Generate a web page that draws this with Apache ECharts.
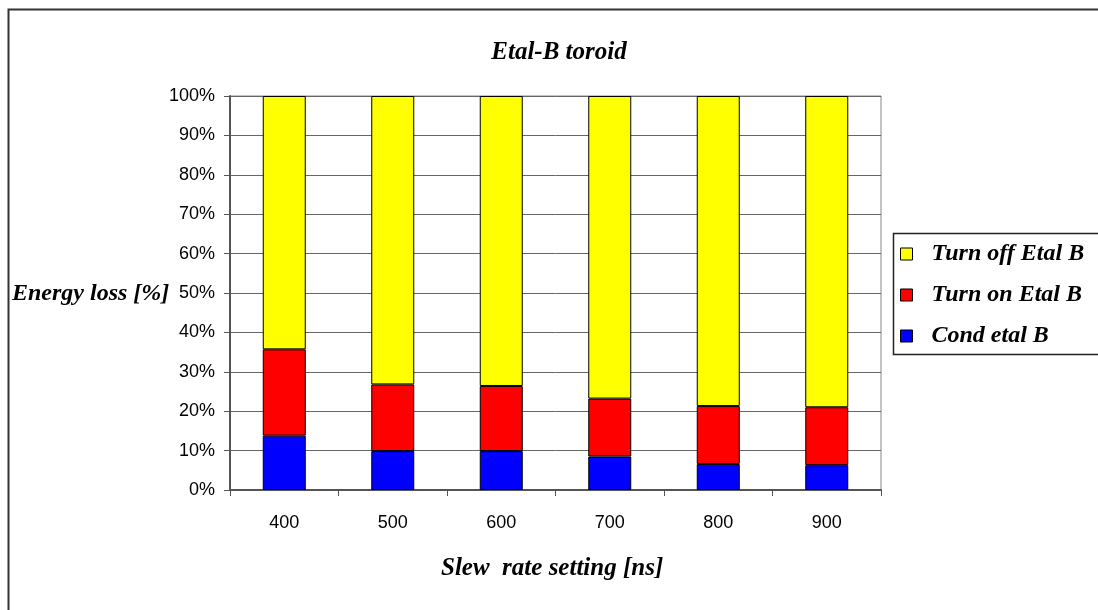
<!DOCTYPE html>
<html>
<head>
<meta charset="utf-8">
<script src="https://cdn.jsdelivr.net/npm/echarts@6/dist/echarts.min.js"></script>
<style>html,body{margin:0;padding:0;background:#fff}#c{width:1098px;height:610px}</style>
</head>
<body>
<div id="c"></div>
<script>
const categories = ['400', '500', '600', '700', '800', '900'];
const condEtalB = [13.8, 9.9, 9.9, 8.5, 6.6, 6.3];
const turnOnEtalB = [21.9, 16.9, 16.5, 14.7, 14.7, 14.7];
const turnOffEtalB = [64.3, 73.2, 73.6, 76.8, 78.7, 79.0];
const yTicks = [0, 10, 20, 30, 40, 50, 60, 70, 80, 90, 100];

const serif = '"Liberation Serif", "Times New Roman", serif';
const sans = '"Liberation Sans", Arial, sans-serif';

const chart = echarts.init(document.getElementById('c'), null, {renderer: 'canvas'});
const barStyle = (color) => ({color: color, borderColor: '#000', borderWidth: 1});
chart.setOption({
  animation: false,
  title: {
    text: 'Etal-B toroid', left: 554, top: 35, textAlign: 'center',
    textStyle: {fontFamily: serif, fontStyle: 'italic', fontWeight: 'bold', fontSize: 25, color: '#000'}
  },
  legend: {
    orient: 'vertical', left: 900, top: 242, padding: 0,
    data: ['Turn off Etal B', 'Turn on Etal B', 'Cond etal B'],
    itemWidth: 12, itemHeight: 12, itemGap: 17,
    icon: 'rect',
    itemStyle: {borderColor: '#000', borderWidth: 1},
    textStyle: {fontFamily: serif, fontStyle: 'italic', fontWeight: 'bold', fontSize: 24, color: '#000', padding: [0, 0, 0, 14]},
    selectedMode: false
  },
  grid: {left: 230, right: 217, top: 96, bottom: 120, show: true, borderColor: '#888', borderWidth: 1},
  xAxis: {
    type: 'category', data: categories,
    axisLine: {lineStyle: {color: '#555', width: 2}},
    axisTick: {show: true, alignWithLabel: false, length: 6, lineStyle: {color: '#555'}},
    axisLabel: {fontFamily: sans, fontSize: 18, color: '#000', margin: 24}
  },
  yAxis: {
    type: 'value', min: 0, max: 100, interval: 10,
    axisLine: {show: true, lineStyle: {color: '#555', width: 2}},
    axisTick: {show: true, length: 6, lineStyle: {color: '#555'}},
    axisLabel: {fontFamily: sans, fontSize: 18, color: '#000', margin: 15,
      formatter: v => yTicks.includes(v) ? v + '%' : ''},
    splitLine: {lineStyle: {color: '#666', width: 1}}
  },
  series: [
    {name: 'Cond etal B', type: 'bar', stack: 's', data: condEtalB, barWidth: 43, itemStyle: barStyle('#0000ff')},
    {name: 'Turn on Etal B', type: 'bar', stack: 's', data: turnOnEtalB, barWidth: 43, itemStyle: barStyle('#ff0000')},
    {name: 'Turn off Etal B', type: 'bar', stack: 's', data: turnOffEtalB, barWidth: 43, itemStyle: barStyle('#ffff00')}
  ],
  graphic: [
    {type: 'rect', shape: {x: 8.5, y: 9.5, width: 1100, height: 610}, style: {fill: 'none', stroke: '#333', lineWidth: 2}, silent: true},
    {type: 'rect', shape: {x: 893.5, y: 233.5, width: 210, height: 121}, style: {fill: 'none', stroke: '#222', lineWidth: 1.5}, silent: true},
    {type: 'text', left: 12, top: 282, style: {text: 'Energy loss [%]', font: 'italic bold 24px ' + serif, fill: '#000'}},
    {type: 'text', left: 441, top: 556, style: {text: 'Slew  rate setting [ns]', font: 'italic bold 25px ' + serif, fill: '#000'}}
  ]
});
</script>
</body>
</html>
